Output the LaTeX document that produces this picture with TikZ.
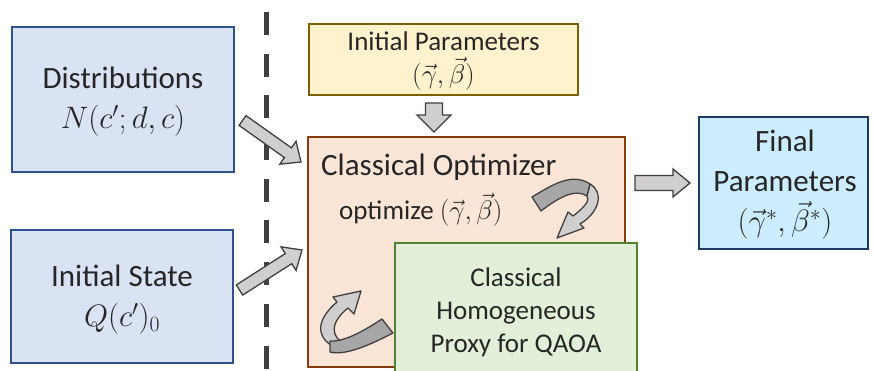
\RequirePackage{fix-cm}
\documentclass[tikz,border=0pt]{standalone}
\usepackage{fontspec}
\setmainfont{Carlito}
\usetikzlibrary{calc}
\definecolor{bluefill}{HTML}{DAE3F3}
\definecolor{blueline}{HTML}{2F528F}
\definecolor{yelfill}{HTML}{FFF2CC}
\definecolor{yelline}{HTML}{7F6000}
\definecolor{orfill}{HTML}{FBE5D6}
\definecolor{orline}{HTML}{843C0C}
\definecolor{grfill}{HTML}{E2F0D9}
\definecolor{grline}{HTML}{548235}
\definecolor{cyfill}{HTML}{CCECFF}
\definecolor{cyline}{HTML}{1F3864}
\definecolor{arfill}{HTML}{D0CECE}
\definecolor{ardark}{HTML}{A6A6A6}
\definecolor{arline}{HTML}{404040}
\definecolor{txt}{HTML}{262626}
\newcommand\blockarrow[5]{%
  \path ($(#2)!#5pt!(#1)$) coordinate (hb);
  \filldraw[blockarr] ($(#1)!#3pt!90:(#2)$) -- ($(hb)!#3pt!90:(#2)$) -- ($(hb)!#4pt!90:(#2)$) -- (#2)
    -- ($(hb)!#4pt!-90:(#2)$) -- ($(hb)!#3pt!-90:(#2)$) -- ($(#1)!#3pt!-90:(#2)$) -- cycle;
}
\tikzset{
  box/.style={draw, line width=1.5pt, inner sep=0pt, outer sep=0pt},
  big/.style={font=\fontsize{31}{40}\selectfont, text=txt, align=center, inner sep=0pt},
  small/.style={font=\fontsize{27}{33}\selectfont, text=txt, align=center, inner sep=0pt},
  blockarr/.style={fill=arfill, draw=arline, line width=1.3pt, line join=miter},
  ribbonlight/.style={fill=arfill, draw=arline, line width=1.3pt, line join=round},
  ribbondark/.style={fill=ardark, draw=arline, line width=1.3pt, line join=round},
}
\begin{document}
\begin{tikzpicture}[x=1pt,y=-1pt]
\useasboundingbox (0,0) rectangle (873,371);
\clip (0,0) rectangle (873,371);
\fill[white] (0,0) rectangle (873,371);
% dashed divider
\coordinate (dtop) at (266,12);
\coordinate (dbot) at (266,371);
\draw[arline, line width=5pt, dash pattern=on 23pt off 18.7pt] (dtop) -- (dbot);
% left boxes
\node[box, fill=bluefill, draw=blueline, minimum width=222, minimum height=145] (dist) at (123,99.5) {};
\node[big] (distT) at (123,102) {Distributions\\ $N(c';d,c)$};
\node[box, fill=bluefill, draw=blueline, minimum width=222, minimum height=133] (init) at (122,296.5) {};
\node[big] (initT) at (122,300) {Initial State\\ $Q(c')_0$};
% initial parameters
\node[box, fill=yelfill, draw=yelline, minimum width=269, minimum height=71] (ip) at (443.5,59.5) {};
\node[small] (ipT) at (443.5,61) {Initial Parameters\\ $(\vec{\gamma},\vec{\beta})$};
% optimizer
\node[box, fill=orfill, draw=orline, minimum width=317, minimum height=230] (opt) at (466.5,252) {};
\node[big, anchor=west] (optT) at (321,167) {Classical Optimizer};
\node[small, anchor=west] (optS) at (339,210) {optimize $(\vec{\gamma},\vec{\beta})$};
% proxy
\node[box, fill=grfill, draw=grline, minimum width=242, minimum height=160] (prx) at (516,323) {};
\node[small] (prxT) at (516,312) {Classical\\ Homogeneous\\ Proxy for QAOA};
% final
\node[box, fill=cyfill, draw=cyline, minimum width=169, minimum height=132] (fin) at (783.5,183) {};
\node[big] (finT) at (785,185) {Final\\ Parameters\\ $(\vec{\gamma}^*,\vec{\beta}^*)$};
% block arrows
\coordinate (a1s) at (242.5,120.5);
\coordinate (a1e) at (301,162);
\blockarrow{a1s}{a1e}{6}{14}{16}
\coordinate (a2s) at (239.5,290);
\coordinate (a2e) at (302,250);
\blockarrow{a2s}{a2e}{6}{14}{16}
\coordinate (a3s) at (434,103);
\coordinate (a3e) at (434,132);
\blockarrow{a3s}{a3e}{8.5}{17}{17}
\coordinate (a4s) at (635,183);
\coordinate (a4e) at (690,183);
\blockarrow{a4s}{a4e}{7.5}{14}{17}
% curved ribbon arrow (top right)
\filldraw[ribbonlight] (590,184) .. controls (604,192) and (600,212) .. (580,224) -- (584,228) -- (557,238) -- (568,212) -- (573,216) .. controls (586,206) and (590,200) .. (587,196) -- cycle;
\filldraw[ribbondark] (532,197) .. controls (552,185) and (572,172) .. (590,184) -- (587,196) .. controls (575,188) and (558,198) .. (541,211) -- cycle;
% curved ribbon arrow (bottom left)
\filldraw[ribbonlight] (331,345) .. controls (315,335) and (318,318) .. (337,302) -- (333,297) -- (361,291) -- (354,314) -- (348,308) .. controls (333,320) and (330,332) .. (340,341) -- cycle;
\filldraw[ribbondark] (382,319) -- (393,333) .. controls (370,345) and (345,356) .. (330,352) -- (330,341) .. controls (345,342) and (365,330) .. (382,319) -- cycle;
\end{tikzpicture}
\end{document}
